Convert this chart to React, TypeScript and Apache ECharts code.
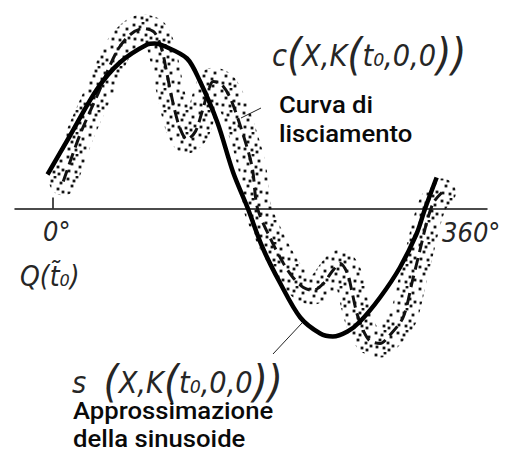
import React, { useEffect, useRef } from "react";
import * as echarts from "echarts";

// Phase angle (degrees) and amplitude of the approximating sinusoid s(X, K(t0,0,0))
const SINE_DEG = [-5, 16, 42, 64, 90, 97, 105, 128, 140, 157, 172, 186, 200, 217, 236, 255, 267, 281, 293, 312, 331, 347, 355, 366];
const SINE_AMP = [0.34, 0.72, 1.19, 1.46, 1.64, 1.65, 1.63, 1.5, 1.28, 0.86, 0.36, 0, -0.39, -0.75, -1.09, -1.25, -1.28, -1.23, -1.13, -0.89, -0.59, -0.25, 0, 0.31];

// Smoothing curve c(X, K(t0,0,0))
const SMOOTH_DEG = [10, 26, 42, 61, 74, 86, 97, 104, 109, 115, 121, 128, 136, 143, 148, 153, 161, 169, 179, 190, 195, 207, 220, 229, 239, 248, 258, 267, 274, 281, 285, 290, 296, 302, 312, 321, 334, 343, 350, 357, 363, 371];
const SMOOTH_AMP = [0.27, 0.74, 1.12, 1.57, 1.74, 1.8, 1.76, 1.59, 1.34, 1.04, 0.81, 0.69, 0.77, 0.99, 1.17, 1.27, 1.24, 1.11, 0.82, 0.42, 0.01, -0.29, -0.55, -0.69, -0.79, -0.82, -0.75, -0.62, -0.55, -0.65, -0.82, -1.05, -1.22, -1.32, -1.35, -1.27, -1.09, -0.72, -0.42, -0.12, 0.06, 0.16];

// Phase axis
const PHASE_MIN = -36;
const PHASE_MAX = 414;
const PHASE_TICKS = [0];
const AMP_MIN = -2;
const AMP_MAX = 2;

// Labels
const PHASE_START_LABEL = "0°";
const PHASE_END_LABEL = "360°";
const START_POINT_LABEL = "Q(t̃₀)";
const SMOOTH_LABEL = ["Curva di", "lisciamento"];
const SINE_LABEL = ["Approssimazione", "della sinusoide"];

// Stipple tile for the scatter band around the smoothing curve
const STIPPLE_DOTS = [
  [2, 3], [11, 1], [17, 7], [6, 10], [14, 13], [3, 17], [10, 18], [19, 16], [8, 5], [15, 20],
];

function stippleTile(): HTMLCanvasElement {
  const c = document.createElement("canvas");
  c.width = 22;
  c.height = 22;
  const ctx = c.getContext("2d")!;
  ctx.fillStyle = "#141414";
  for (const [x, y] of STIPPLE_DOTS) {
    ctx.fillRect(x - 1.4, y - 1.4, 2.8, 2.8);
  }
  return c;
}

const MATH_FONT = {
  fontFamily: "DejaVu Sans",
  fontStyle: "italic" as const,
  fontWeight: "normal" as const,
  fill: "#262626",
};

const mathRich = {
  i: { ...MATH_FONT, fontSize: 31 },
  p: { ...MATH_FONT, fontSize: 44 },
};

const NOTE_FONT = {
  fontFamily: "Roboto",
  fontSize: 24,
  fontWeight: 500 as const,
  fill: "#0a0a0a",
};

export default function App() {
  const ref = useRef<HTMLDivElement>(null);

  useEffect(() => {
    if (!ref.current) return;
    const chart = echarts.init(ref.current, undefined, { renderer: "svg" });

    const sine = SINE_DEG.map((d, i) => [d, SINE_AMP[i]]);
    const smooth = SMOOTH_DEG.map((d, i) => [d, SMOOTH_AMP[i]]);

    chart.setOption({
      animation: false,
      backgroundColor: "#ffffff",
      grid: { left: 15, right: 24, top: 8.5, bottom: 45.5, containLabel: false },
      xAxis: {
        type: "value",
        min: PHASE_MIN,
        max: PHASE_MAX,
        axisLine: { show: true, onZero: true, lineStyle: { color: "#111", width: 1.5 } },
        axisTick: {
          show: true,
          customValues: PHASE_TICKS,
          inside: true,
          length: 11,
          lineStyle: { color: "#111", width: 1.5 },
        },
        axisLabel: { show: false },
        splitLine: { show: false },
      },
      yAxis: {
        type: "value",
        min: AMP_MIN,
        max: AMP_MAX,
        show: false,
        splitLine: { show: false },
      },
      series: [
        {
          name: "band",
          type: "line",
          data: smooth,
          smooth: 0.3,
          showSymbol: false,
          silent: true,
          lineStyle: {
            width: 28,
            cap: "round",
            join: "round",
            color: { image: stippleTile(), repeat: "repeat" },
          },
          z: 1,
        },
        {
          name: "c",
          type: "line",
          data: smooth,
          smooth: 0.3,
          showSymbol: false,
          lineStyle: { width: 3, color: "#111", type: [12, 6] },
          z: 2,
        },
        {
          name: "s",
          type: "line",
          data: sine,
          smooth: 0.3,
          showSymbol: false,
          lineStyle: { width: 4.5, color: "#000" },
          z: 3,
        },
      ],
      graphic: [
        // leader lines
        { type: "line", shape: { x1: 241, y1: 118, x2: 261, y2: 108 }, style: { stroke: "#222", lineWidth: 1 } },
        { type: "line", shape: { x1: 273, y1: 354, x2: 302, y2: 323 }, style: { stroke: "#222", lineWidth: 1 } },
        // smoothing curve symbol
        {
          type: "text",
          x: 272,
          y: 55,
          scaleX: 0.88,
          style: {
            text: "{i|c}{p|(}{i|X,K}{p|(}{i|t₀,0,0}{p|))}",
            rich: mathRich,
            verticalAlign: "middle",
            align: "left",
          },
        },
        // sinusoid symbol
        {
          type: "text",
          x: 72,
          y: 382,
          scaleX: 0.88,
          style: {
            text: "{i|s  }{p|(}{i|X,K}{p|(}{i|t₀,0,0}{p|))}",
            rich: mathRich,
            verticalAlign: "middle",
            align: "left",
          },
        },
        {
          type: "text",
          x: 43,
          y: 232,
          scaleX: 0.9,
          style: { ...MATH_FONT, text: PHASE_START_LABEL, fontSize: 27, verticalAlign: "middle", align: "left" },
        },
        {
          type: "text",
          x: 442,
          y: 233,
          scaleX: 0.9,
          style: { ...MATH_FONT, text: PHASE_END_LABEL, fontSize: 27, verticalAlign: "middle", align: "left" },
        },
        {
          type: "text",
          x: 20,
          y: 276,
          scaleX: 0.9,
          style: { ...MATH_FONT, text: START_POINT_LABEL, fontSize: 28, verticalAlign: "middle", align: "left" },
        },
        // descriptive notes
        {
          type: "text",
          x: 279,
          y: 119.5,
          scaleX: 1.07,
          style: { ...NOTE_FONT, text: SMOOTH_LABEL.join("\n"), lineHeight: 29.5, verticalAlign: "middle", align: "left" },
        },
        {
          type: "text",
          x: 73,
          y: 425,
          scaleX: 1.07,
          style: { ...NOTE_FONT, text: SINE_LABEL.join("\n"), lineHeight: 28.5, verticalAlign: "middle", align: "left" },
        },
      ],
    });

    return () => chart.dispose();
  }, []);

  return (
    <div
      ref={ref}
      style={{ position: "fixed", left: 0, top: 0, width: 511, height: 454, background: "#fff" }}
    />
  );
}
